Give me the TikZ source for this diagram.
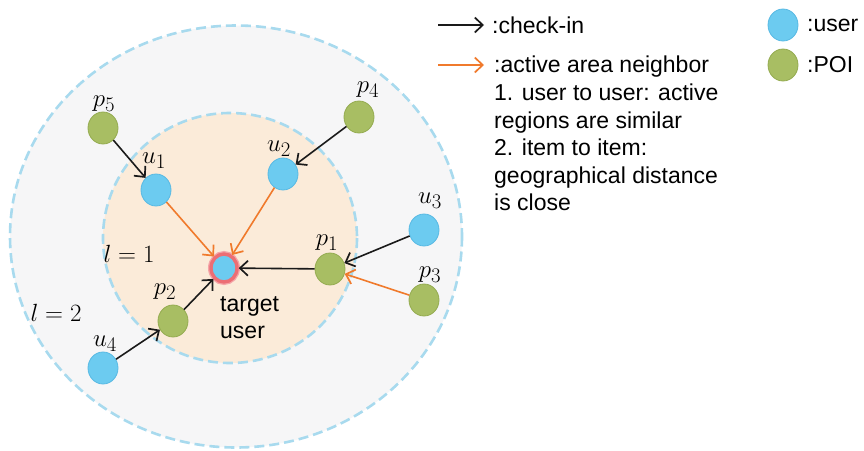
\documentclass[tikz,border=0pt]{standalone}
\usepackage{fontspec}
\setmainfont{Liberation Sans}
\usetikzlibrary{arrows.meta,shapes.geometric}
\definecolor{dashblue}{HTML}{A8DAEE}
\definecolor{outerfill}{HTML}{F6F6F7}
\definecolor{innerfill}{HTML}{FBEBD9}
\definecolor{userfill}{HTML}{6CCBF0}
\definecolor{userdraw}{HTML}{58B9E3}
\definecolor{poifill}{HTML}{A8BE63}
\definecolor{poidraw}{HTML}{94AB50}
\definecolor{ringred}{HTML}{EC6E74}
\definecolor{ringhalo}{HTML}{F4A5A8}
\definecolor{nbrorange}{HTML}{F07A2C}
\definecolor{inkblack}{HTML}{1A1A1A}
\tikzset{
  region/.style={draw=dashblue, line width=2.6, dash pattern=on 10 off 5},
  usernode/.style={ellipse, fill=userfill, draw=userdraw, line width=0.8,
    minimum width=30, minimum height=32, inner sep=0},
  poinode/.style={ellipse, fill=poifill, draw=poidraw, line width=0.8,
    minimum width=30, minimum height=32, inner sep=0},
  targetnode/.style={ellipse, fill=userfill, draw=ringred, line width=3.4,
    minimum width=26, minimum height=28, inner sep=0,
    preaction={draw=ringhalo, line width=6}},
  mlabel/.style={inner sep=0, font=\fontsize{28}{32}\selectfont},
  checkin/.style={draw=inkblack, line width=1.6,
    -{Straight Barb[length=8, width=15, line width=1.7]}},
  neighbor/.style={draw=nbrorange, line width=1.6,
    -{Straight Barb[length=8, width=15, line width=1.7]}},
  legendtext/.style={inner sep=0, anchor=west, font=\fontsize{23}{27.6}\selectfont}
}
\begin{document}
\begin{tikzpicture}[x=1pt, y=-1pt]
\useasboundingbox (0,0) rectangle (864,450);

% the two neighbourhood levels
\draw[region, fill=outerfill] (236,236.5) ellipse [x radius=226, y radius=211];
\draw[region, fill=innerfill] (230,238) ellipse [x radius=127, y radius=125];

\node[mlabel] (lone) at (129,254) {$l=1$};
\node[mlabel] (ltwo) at (56,313) {$l=2$};

% users and POIs
\node[targetnode] (t) at (224,268) {};
\node[usernode] (u1) at (156,190) {};
\node[usernode] (u2) at (283,174) {};
\node[usernode] (u3) at (424,230) {};
\node[usernode] (u4) at (103,368) {};
\node[poinode] (p1) at (330,269) {};
\node[poinode] (p2) at (173,321) {};
\node[poinode] (p3) at (424,300) {};
\node[poinode] (p4) at (359,117) {};
\node[poinode] (p5) at (103,128) {};

\node[mlabel] (lu1) at (154,161) {$u_1$};
\node[mlabel] (lu2) at (279,149) {$u_2$};
\node[mlabel] (lu3) at (430,201) {$u_3$};
\node[mlabel] (lu4) at (105,344) {$u_4$};
\node[mlabel] (lp1) at (327,243) {$p_1$};
\node[mlabel] (lp2) at (165,292) {$p_2$};
\node[mlabel] (lp3) at (430,275) {$p_3$};
\node[mlabel] (lp4) at (368,90) {$p_4$};
\node[mlabel] (lp5) at (104,104) {$p_5$};

\node[inner sep=0, anchor=north west, align=left,
      font=\fontsize{23}{27}\selectfont] (tl) at (220,296) {target\\user};

% check-in and neighbour relations
\draw[checkin] (p5) -- (u1);
\draw[checkin] (p4) -- (u2);
\draw[checkin] (u3) -- (p1);
\draw[checkin] (p1) -- (t);
\draw[checkin] (u4) -- (p2);
\draw[checkin] (p2) -- (t);
\draw[neighbor] (p3) -- (p1);
\draw[neighbor] (u1) -- (t);
\draw[neighbor] (u2) -- (t);

% legend
\coordinate (ka) at (438,25);
\coordinate (kb) at (484,25);
\coordinate (oa) at (438,65);
\coordinate (ob) at (484,65);
\draw[checkin] (ka) -- (kb);
\draw[neighbor] (oa) -- (ob);
\node[legendtext] (lchk) at (492,25) {:check-in};
\node[inner sep=0, anchor=north west, align=left,
      font=\fontsize{23}{27.6}\selectfont] (lnbr) at (494,56)
  {:active area neighbor\\1. user to user: active\\regions are similar\\2. item to item:\\geographical distance\\is close};

\node[usernode] (kuser) at (783,25) {};
\node[poinode] (kpoi) at (783,65) {};
\node[legendtext] (luser) at (807,25) {:user};
\node[legendtext] (lpoi) at (807,65) {:POI};
\end{tikzpicture}
\end{document}
